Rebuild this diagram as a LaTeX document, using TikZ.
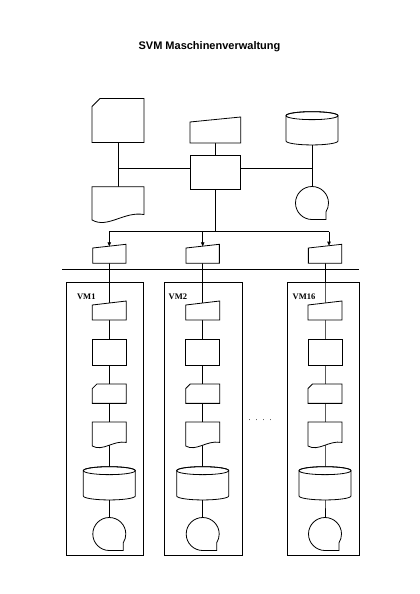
\documentclass[tikz,border=0pt]{standalone}
\usepackage{fontspec}
\setmainfont{Liberation Serif}
\newfontfamily\titlefont{Liberation Sans}
\usetikzlibrary{calc,arrows.meta}

\tikzset{
  blk/.style 2 args={inner sep=0pt, outer sep=0pt, minimum width=#1pt, minimum height=#2pt},
  shp/.style={draw, fill=white},
  arr/.style={-{Triangle[length=4pt,width=3.5pt]}},
  bus/.style={line width=1.2pt},
  vmbox/.style 2 args={draw, inner sep=0pt, minimum width=#1pt, minimum height=#2pt},
  vmlabel/.style={anchor=west, inner sep=0pt, font=\fontsize{8.5}{10}\selectfont\bfseries},
}

% manual input: node, drop of the top edge
\newcommand{\maninput}[2]{%
  \draw[shp] (#1.south west) -- ([yshift=#2pt]#1.north west) -- (#1.north east) -- (#1.south east) -- cycle;}
% punched card: node, cut corner
\newcommand{\cardshape}[2]{%
  \draw[shp] (#1.south west) -- ([yshift=#2pt]#1.north west) -- ([xshift=#2pt]#1.north west) -- (#1.north east) -- (#1.south east) -- cycle;}
% document: node, wave height
\newcommand{\docshape}[2]{%
  \draw[shp] (#1.south west) -- (#1.north west) -- (#1.north east) -- ($(#1.south east)+(0,{-0.6*#2})$) .. controls ($(#1.south west)!0.62!(#1.south east)+(0,{-#2})$) and ($(#1.south west)!0.3!(#1.south east)+(0,#2)$) .. (#1.south west) -- cycle;}
% disk storage
\newcommand{\cylshape}[1]{%
  \draw[shp] ([yshift=4pt]#1.north west) -- ([yshift=-4pt]#1.south west) arc[start angle=180,end angle=0,x radius=26,y radius=4] -- ([yshift=4pt]#1.north east) arc[start angle=0,end angle=-180,x radius=26,y radius=4] -- cycle;
  \draw ([yshift=4pt]#1.north) ellipse[x radius=26,y radius=4];}
% magnetic tape
\newcommand{\tapeshape}[1]{%
  \draw[shp] (#1.south) arc[start angle=90,end angle=391.8,radius=16.5] -- ([xshift=14pt]#1.south) -- cycle;}

\begin{document}
\begin{tikzpicture}[x=1pt,y=1pt,yscale=-1,line width=0.8pt]
\fill[white] (0,0) rectangle (420,594);
\useasboundingbox (0,0) rectangle (420,594);

%Text: title
\node[anchor=base, inner sep=0pt, font=\titlefont\bfseries\fontsize{11}{13}\selectfont] (title) at (209.5,49) {SVM Maschinenverwaltung};

%Nodes: host
\node[blk={52}{44}] (card0) at (118,120.5) {};
\node[blk={52}{33.3}] (doc0) at (118,203.3) {};
\node[blk={50.7}{26}] (inp0) at (215.3,130) {};
\node[blk={50.7}{33.3}] (proc0) at (215.3,172.3) {};
\node[blk={52}{33.3}] (cyl0) at (312,128.3) {};
\node[blk={33}{33}, circle] (tape0) at (312,203) {};
\coordinate (jl) at (118,168.7);
\coordinate (jr) at (312,168.7);
\coordinate (split) at (215.3,231.7);
\coordinate (dl) at (109.3,231.7);
\coordinate (dm) at (202.7,231.7);
\coordinate (dr) at (329,231.7);

%Nodes: distribution
\node[blk={33.3}{19}] (dist1) at (109.3,253.8) {};
\node[blk={33.3}{19}] (dist2) at (202.7,253.8) {};
\node[blk={33.3}{19}] (dist16) at (325,253.8) {};
\coordinate (busL) at (62.3,269.5);
\coordinate (busR) at (359.3,269.5);

%Nodes: VM1
\node[vmbox={76.6}{272.8}] (vm1) at (105,419.1) {};
\node[vmlabel] (lab1) at (76.7,297) {VM1};
\node[blk={34}{19}] (inp1) at (109.3,310.5) {};
\node[blk={34}{25.7}] (proc1) at (109.3,352.2) {};
\node[blk={34}{19.3}] (card1) at (109.3,393.7) {};
\node[blk={34}{24}] (doc1) at (109.3,434) {};
\node[blk={52}{33.3}] (cyl1) at (109.3,483.3) {};
\node[blk={33}{33}, circle] (tape1) at (109.3,534) {};

%Nodes: VM2
\node[vmbox={77.5}{272.8}] (vm2) at (203.25,419.1) {};
\node[vmlabel] (lab2) at (168.3,297) {VM2};
\node[blk={34}{19}] (inp2) at (202.7,310.5) {};
\node[blk={34}{25.7}] (proc2) at (202.7,352.2) {};
\node[blk={34}{19.3}] (card2) at (202.7,393.7) {};
\node[blk={34}{24}] (doc2) at (202.7,434) {};
\node[blk={52}{33.3}] (cyl2) at (202.7,483.3) {};
\node[blk={33}{33}, circle] (tape2) at (202.7,534) {};

%Nodes: VM16
\node[vmbox={72}{272.8}] (vm16) at (323.3,419.1) {};
\node[vmlabel] (lab16) at (292.3,297) {VM16};
\node[blk={34}{19}] (inp16) at (325,310.5) {};
\node[blk={34}{25.7}] (proc16) at (325,352.2) {};
\node[blk={34}{19.3}] (card16) at (325,393.7) {};
\node[blk={34}{24}] (doc16) at (325,434) {};
\node[blk={52}{33.3}] (cyl16) at (325,483.3) {};
\node[blk={33}{33}, circle] (tape16) at (325,534) {};

%Text: dots
\node[anchor=base, inner sep=0pt, font=\fontsize{8}{10}\selectfont] (dots) at (260,420.5) {.\hspace{5pt}.\hspace{5pt}.\hspace{5pt}.};

%Lines
\draw (card0.center) -- (doc0.center);
\draw (cyl0.center) -- (tape0.center);
\draw (jl) -- (jr);
\draw (inp0.center) -- (proc0.center);
\draw (proc0.center) -- (split);
\draw (dl) -- (dr);
\draw[bus] (busL) -- (busR);
\draw (dist1.center) -- (inp1.center) -- (proc1.center) -- (card1.center) -- (doc1.center) -- (cyl1.center) -- (tape1.center);
\draw (dist2.center) -- (inp2.center) -- (proc2.center) -- (card2.center) -- (doc2.center) -- (cyl2.center) -- (tape2.center);
\draw (dist16.center) -- (inp16.center) -- (proc16.center) -- (card16.center) -- (doc16.center) -- (cyl16.center) -- (tape16.center);

%Shapes: host
\cardshape{card0}{8}
\docshape{doc0}{9}
\maninput{inp0}{5}
\draw[shp] (proc0.north west) rectangle (proc0.south east);
\cylshape{cyl0}
\tapeshape{tape0}
\maninput{dist1}{3.7}
\maninput{dist2}{3.7}
\maninput{dist16}{3.7}

%Shapes: VM1
\maninput{inp1}{4}
\draw[shp] (proc1.north west) rectangle (proc1.south east);
\cardshape{card1}{4.5}
\docshape{doc1}{6}
\cylshape{cyl1}
\tapeshape{tape1}

%Shapes: VM2
\maninput{inp2}{4}
\draw[shp] (proc2.north west) rectangle (proc2.south east);
\cardshape{card2}{4.5}
\docshape{doc2}{6}
\cylshape{cyl2}
\tapeshape{tape2}

%Shapes: VM16
\maninput{inp16}{4}
\draw[shp] (proc16.north west) rectangle (proc16.south east);
\cardshape{card16}{4.5}
\docshape{doc16}{6}
\cylshape{cyl16}
\tapeshape{tape16}

%Arrows
\draw[arr] (dl) -- ([yshift=2pt]dist1.north);
\draw[arr] (dm) -- ([yshift=2pt]dist2.north);
\draw[arr] (dr) -- ([xshift=4pt,yshift=1.4pt]dist16.north);

\end{tikzpicture}
\end{document}
